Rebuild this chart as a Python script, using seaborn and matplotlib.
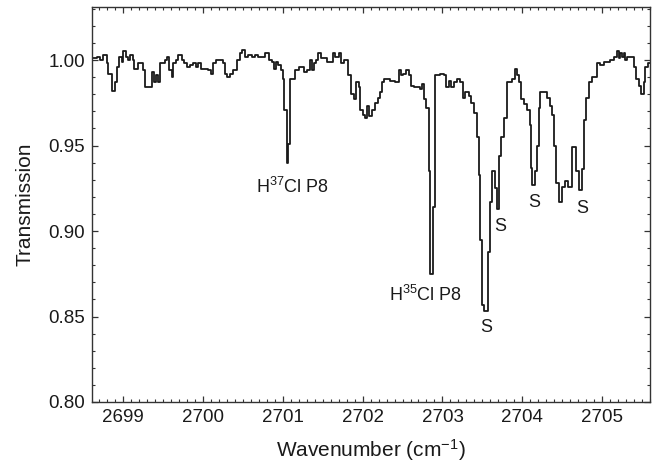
import numpy as np
import pandas as pd
import matplotlib
matplotlib.use("Agg")
import matplotlib.pyplot as plt
import seaborn as sns
from matplotlib.ticker import MultipleLocator, FixedLocator

# ---- data (step start wavenumber, transmission) ----
wavenumber = [
    2698.586, 2698.670, 2698.712, 2698.753, 2698.796, 2698.816, 2698.858, 2698.900,
    2698.921, 2698.954, 2698.984, 2699.004, 2699.034, 2699.066, 2699.088, 2699.122,
    2699.142, 2699.192, 2699.254, 2699.276, 2699.360, 2699.388, 2699.414, 2699.442,
    2699.464, 2699.526, 2699.555, 2699.580, 2699.610, 2699.630, 2699.664, 2699.693,
    2699.736, 2699.768, 2699.798, 2699.840, 2699.881, 2699.915, 2699.944, 2699.974,
    2700.069, 2700.099, 2700.132, 2700.165, 2700.249, 2700.278, 2700.307, 2700.341,
    2700.382, 2700.425, 2700.466, 2700.495, 2700.529, 2700.570, 2700.613, 2700.654,
    2700.695, 2700.738, 2700.779, 2700.821, 2700.863, 2700.892, 2700.917, 2700.946,
    2700.976, 2701.001, 2701.021, 2701.051, 2701.068, 2701.093, 2701.155, 2701.197,
    2701.239, 2701.268, 2701.302, 2701.343, 2701.365, 2701.385, 2701.415, 2701.447,
    2701.477, 2701.553, 2701.628, 2701.657, 2701.698, 2701.732, 2701.761, 2701.823,
    2701.853, 2701.886, 2701.916, 2701.949, 2701.970, 2702.004, 2702.033, 2702.061,
    2702.086, 2702.117, 2702.158, 2702.187, 2702.221, 2702.246, 2702.271, 2702.346,
    2702.408, 2702.450, 2702.480, 2702.512, 2702.546, 2702.575, 2702.605, 2702.638,
    2702.722, 2702.743, 2702.772, 2702.797, 2702.826, 2702.847, 2702.878, 2702.901,
    2702.972, 2703.014, 2703.044, 2703.076, 2703.106, 2703.139, 2703.182, 2703.223,
    2703.257, 2703.286, 2703.327, 2703.357, 2703.390, 2703.432, 2703.452, 2703.474,
    2703.495, 2703.524, 2703.565, 2703.590, 2703.620, 2703.662, 2703.683, 2703.712,
    2703.737, 2703.766, 2703.808, 2703.871, 2703.903, 2703.934, 2703.954, 2703.984,
    2704.016, 2704.059, 2704.091, 2704.109, 2704.121, 2704.163, 2704.184, 2704.213,
    2704.225, 2704.309, 2704.342, 2704.372, 2704.401, 2704.422, 2704.455, 2704.497,
    2704.539, 2704.568, 2704.623, 2704.677, 2704.705, 2704.748, 2704.777, 2704.802,
    2704.831, 2704.873, 2704.936, 2704.977, 2705.019, 2705.103, 2705.144, 2705.187,
    2705.207, 2705.228, 2705.249, 2705.269, 2705.291, 2705.312, 2705.395, 2705.428,
    2705.457, 2705.487, 2705.520, 2705.541, 2705.570, 2705.625,
]
transmission = [
    1.001, 1.002, 1.000, 1.003, 0.998, 0.992, 0.982, 0.987,
    0.996, 1.002, 0.999, 1.005, 1.002, 1.000, 1.003, 1.000,
    0.995, 0.998, 0.994, 0.984, 0.993, 0.987, 0.991, 0.987,
    0.998, 1.000, 1.002, 0.994, 0.990, 0.998, 1.000, 1.003,
    1.000, 0.998, 0.996, 0.997, 0.998, 0.996, 0.998, 0.995,
    0.994, 0.992, 0.998, 1.000, 0.998, 0.992, 0.990, 0.992,
    0.994, 1.000, 1.004, 1.006, 1.002, 1.003, 1.002, 1.003,
    1.002, 1.002, 1.004, 1.000, 0.999, 0.995, 0.999, 0.997,
    0.994, 0.989, 0.971, 0.940, 0.951, 0.989, 0.994, 0.996,
    0.996, 0.993, 0.994, 1.000, 0.994, 0.998, 1.000, 1.004,
    1.001, 0.999, 1.004, 1.002, 1.004, 0.998, 1.000, 0.991,
    0.980, 0.977, 0.987, 0.984, 0.971, 0.968, 0.966, 0.973,
    0.967, 0.971, 0.975, 0.978, 0.981, 0.987, 0.989, 0.988,
    0.987, 0.994, 0.991, 0.992, 0.994, 0.991, 0.985, 0.984,
    0.983, 0.986, 0.977, 0.972, 0.935, 0.875, 0.914, 0.991,
    0.992, 0.991, 0.984, 0.988, 0.984, 0.987, 0.989, 0.987,
    0.978, 0.981, 0.979, 0.975, 0.969, 0.955, 0.933, 0.895,
    0.857, 0.853, 0.888, 0.917, 0.935, 0.925, 0.913, 0.944,
    0.955, 0.966, 0.987, 0.989, 0.995, 0.991, 0.987, 0.977,
    0.974, 0.971, 0.962, 0.937, 0.927, 0.935, 0.950, 0.972,
    0.981, 0.978, 0.973, 0.968, 0.950, 0.928, 0.917, 0.926,
    0.929, 0.926, 0.949, 0.935, 0.924, 0.936, 0.965, 0.978,
    0.987, 0.990, 0.998, 0.997, 0.999, 1.000, 1.002, 1.005,
    1.001, 1.004, 1.002, 1.004, 1.000, 1.002, 0.996, 0.989,
    0.985, 0.980, 0.987, 0.996, 0.998, 0.998,
]

# annotations: label text, wavenumber, transmission
label_texts = ["H$^{37}$Cl P8", "H$^{35}$Cl P8", "S", "S", "S", "S"]
label_wn = [2701.118, 2702.790, 2703.549, 2703.724, 2704.150, 2704.752]
label_tr = [0.9257, 0.8626, 0.8433, 0.9029, 0.9164, 0.9134]

x_ticks = [2699, 2700, 2701, 2702, 2703, 2704, 2705]
y_ticks = [0.80, 0.85, 0.90, 0.95, 1.00]
y_tick_labels = ["0.80", "0.85", "0.90", "0.95", "1.00"]

# ---- style ----
sns.set_theme(style="ticks")
plt.rcParams["font.family"] = ["Liberation Sans", "DejaVu Sans"]
plt.rcParams["mathtext.fontset"] = "custom"
plt.rcParams["mathtext.rm"] = "Liberation Sans"
plt.rcParams["mathtext.it"] = "Liberation Sans:italic"
plt.rcParams["mathtext.bf"] = "Liberation Sans:bold"

fig = plt.figure(figsize=(6.59, 4.72), dpi=100)
ax = fig.add_axes([92 / 659, (472 - 402) / 472, (650 - 92) / 659, (402 - 7) / 472])

df = pd.DataFrame({"wavenumber": wavenumber, "transmission": transmission})
sns.lineplot(data=df, x="wavenumber", y="transmission", ax=ax,
             drawstyle="steps-post", color="#1a1a1a", linewidth=1.3,
             estimator=None, sort=False)

ax.set_xlim(2698.61, 2705.60)
ax.set_ylim(0.80, 1.031)

ax.xaxis.set_major_locator(FixedLocator(x_ticks))
ax.xaxis.set_minor_locator(MultipleLocator(0.1))
ax.set_xticklabels([str(t) for t in x_ticks])
ax.yaxis.set_major_locator(FixedLocator(y_ticks))
ax.yaxis.set_minor_locator(MultipleLocator(0.01))
ax.set_yticklabels(y_tick_labels)

ax.tick_params(which="both", direction="in", top=True, right=True,
               color="#333333", labelcolor="#1a1a1a", labelsize=13.5)
ax.tick_params(which="major", length=4, width=0.9, pad=5)
ax.tick_params(which="minor", length=2.2, width=0.8)
for sp in ax.spines.values():
    sp.set_color("#333333")
    sp.set_linewidth(1.0)

ax.set_xlabel("Wavenumber (cm$^{-1}$)", fontsize=15, color="#1a1a1a", labelpad=8)
ax.set_ylabel("Transmission", fontsize=15, color="#1a1a1a", labelpad=10)

for txt, xw, yt in zip(label_texts, label_wn, label_tr):
    ax.text(xw, yt, txt, ha="center", va="center", fontsize=13, color="#1a1a1a")

fig.savefig("out.png", dpi=100)
